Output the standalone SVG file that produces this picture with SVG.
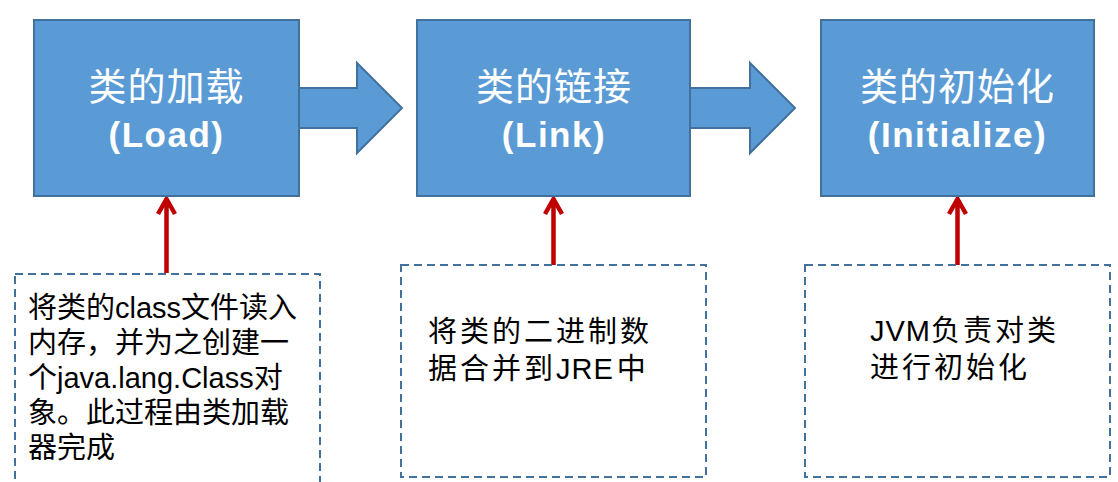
<svg xmlns="http://www.w3.org/2000/svg" width="1118" height="482" viewBox="0 0 1118 482">
<style>
.stage{fill:#5B9BD5;stroke:#41719C;stroke-width:2}
.flow{fill:#5B9BD5;stroke:#41719C;stroke-width:2;stroke-linejoin:miter}
.title{font-family:"Liberation Sans","Noto Sans CJK SC",sans-serif;font-size:38px;fill:#fff;text-anchor:middle;letter-spacing:1px}
.sub{font-family:"Liberation Sans","Noto Sans CJK SC",sans-serif;font-size:35px;font-weight:bold;fill:#fff;text-anchor:middle;letter-spacing:1.5px}
.note{fill:#fff;stroke:#41719C;stroke-width:2;stroke-dasharray:8 5}
.ntext{font-family:"Liberation Sans","Noto Sans CJK SC",sans-serif;font-size:29px;fill:#000}
.wide{letter-spacing:3px}
.lat{letter-spacing:1px}
.red{fill:none;stroke:#C00000;stroke-width:4.5}
</style>
<g id="connectors">
<path class="flow" d="M299,88 H357 V63 L402,108 L357,153 V128 H299 Z"/>
<path class="flow" d="M690,88 H750 V63 L795,108 L750,153 V128 H690 Z"/>
<path class="red" d="M166.5,273 V199 M158,214 L166.5,199 L175,214"/>
<path class="red" d="M553.5,265 V199 M545,214 L553.5,199 L562,214"/>
<path class="red" d="M957.5,265 V199 M949,214 L957.5,199 L966,214"/>
</g>
<g id="load">
<rect class="stage" x="34" y="20" width="265" height="176"/>
<text class="title" x="166.5" y="100">类的加载</text>
<text class="sub" x="166.5" y="147">(Load)</text>
</g>
<g id="link">
<rect class="stage" x="417" y="20" width="273" height="176"/>
<text class="title" x="554" y="100">类的链接</text>
<text class="sub" x="554" y="147">(Link)</text>
</g>
<g id="init">
<rect class="stage" x="821" y="20" width="273" height="176"/>
<text class="title" x="957.5" y="100">类的初始化</text>
<text class="sub" x="957.5" y="147">(Initialize)</text>
</g>
<g id="note-load">
<rect class="note" x="15" y="274" width="305" height="220"/>
<text class="ntext" x="28" y="318">将类的class文件读入</text>
<text class="ntext" x="28" y="353">内存，并为之创建一</text>
<text class="ntext" x="28" y="388">个java.lang.Class对</text>
<text class="ntext" x="28" y="423">象。此过程由类加载</text>
<text class="ntext" x="28" y="458">器完成</text>
</g>
<g id="note-link">
<rect class="note" x="401" y="265" width="305" height="212"/>
<text class="ntext wide" x="428" y="342">将类的二进制数</text>
<text class="ntext" x="428" y="379"><tspan class="wide">据合并到</tspan><tspan class="lat">JRE</tspan><tspan dx="3">中</tspan></text>
</g>
<g id="note-init">
<rect class="note" x="805" y="265" width="305" height="212"/>
<text class="ntext" x="870" y="341"><tspan class="lat">JVM</tspan><tspan class="wide">负责对类</tspan></text>
<text class="ntext wide" x="870" y="378">进行初始化</text>
</g>
</svg>
